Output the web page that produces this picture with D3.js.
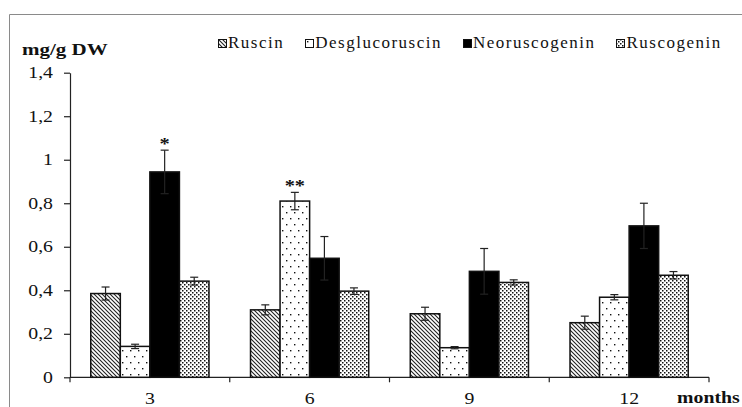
<!DOCTYPE html>
<html>
<head>
<meta charset="utf-8">
<script src="https://cdn.jsdelivr.net/npm/d3@7"></script>
<style>
  body { margin: 0; background: #fff; }
  #chart { position: relative; width: 742px; height: 407px; }
  #legend {
    position: absolute; left: 218px; top: 32.6px;
    display: flex; align-items: baseline;
    font-family: "Liberation Serif"; font-size: 17px; color: #111;
    letter-spacing: 1.5px; white-space: nowrap;
  }
  #legend .item { display: flex; align-items: baseline; margin-right: 21px; }
  #legend svg { margin-right: 1px; }
</style>
</head>
<body>
<div id="chart"></div>
<script>
const months = ["3", "6", "9", "12"];
const series = ["Ruscin", "Desglucoruscin", "Neoruscogenin", "Ruscogenin"];

// mean values per series, one entry per month
const ruscin         = [0.385, 0.31, 0.292, 0.251];
const desglucoruscin = [0.142, 0.81, 0.136, 0.368];
const neoruscogenin  = [0.944, 0.547, 0.487, 0.696];
const ruscogenin     = [0.442, 0.396, 0.436, 0.469];

// standard errors
const ruscinErr         = [0.03, 0.023, 0.03, 0.03];
const desglucoruscinErr = [0.01, 0.04, 0.005, 0.012];
const neoruscogeninErr  = [0.1, 0.1, 0.105, 0.104];
const ruscogeninErr     = [0.018, 0.015, 0.012, 0.017];

// significance marks above bars
const marks = [
  {month: "3", series: "Neoruscogenin", label: "*"},
  {month: "6", series: "Desglucoruscin", label: "**"}
];

const yTicks = [0, 0.2, 0.4, 0.6, 0.8, 1, 1.2, 1.4];

const values = [ruscin, desglucoruscin, neoruscogenin, ruscogenin];
const errors = [ruscinErr, desglucoruscinErr, neoruscogeninErr, ruscogeninErr];

const data = [];
months.forEach((m, i) => {
  series.forEach((s, j) => {
    data.push({month: m, series: s, value: values[j][i], err: errors[j][i]});
  });
});

const width = 742, height = 407;
const margin = {top: 72.7, right: 33, bottom: 30, left: 70};
const stretch = 1.2;
const serifFont = '"Liberation Serif"';

// ask for the serif faces early so the screenshot waits for them
if (document.fonts && document.fonts.load) {
  document.fonts.load('17px "Liberation Serif"');
  document.fonts.load('bold 17px "Liberation Serif"');
}

// text widened horizontally, like the source picture (no measuring needed)
function wideText(parent, x, y, str, size, anchor, bold) {
  const g = parent.append("g").attr("transform", `translate(${x},${y}) scale(${stretch},1)`);
  return g.append("text")
    .attr("text-anchor", anchor || "start")
    .style("font-family", serifFont)
    .style("font-size", size + "px")
    .style("font-weight", bold ? "bold" : "normal")
    .attr("fill", "#111")
    .text(str);
}

const svg = d3.select("#chart").append("svg")
  .attr("width", width)
  .attr("height", height);

// patterns
const defs = svg.append("defs");

const pHatch = defs.append("pattern").attr("id", "p-hatch")
  .attr("patternUnits", "userSpaceOnUse").attr("width", 4).attr("height", 4);
pHatch.append("rect").attr("width", 4).attr("height", 4).attr("fill", "#fff");
pHatch.append("path").attr("d", "M-1,-1 L5,5 M-1,3 L1,5 M3,-1 L5,1")
  .attr("stroke", "#222").attr("stroke-width", 1.1);

const pSparse = defs.append("pattern").attr("id", "p-sparse")
  .attr("patternUnits", "userSpaceOnUse").attr("width", 8).attr("height", 12);
pSparse.append("rect").attr("width", 8).attr("height", 12).attr("fill", "#fff");
pSparse.append("rect").attr("x", 2).attr("y", 2).attr("width", 1.4).attr("height", 1.4).attr("fill", "#111");
pSparse.append("rect").attr("x", 6).attr("y", 8).attr("width", 1.4).attr("height", 1.4).attr("fill", "#111");

const pDense = defs.append("pattern").attr("id", "p-dense")
  .attr("patternUnits", "userSpaceOnUse").attr("width", 4).attr("height", 4);
pDense.append("rect").attr("width", 4).attr("height", 4).attr("fill", "#fff");
pDense.append("rect").attr("x", 0).attr("y", 0).attr("width", 1.5).attr("height", 1.5).attr("fill", "#111");
pDense.append("rect").attr("x", 2).attr("y", 2).attr("width", 1.5).attr("height", 1.5).attr("fill", "#111");

const fill = d3.scaleOrdinal()
  .domain(series)
  .range(["url(#p-hatch)", "url(#p-sparse)", "#000", "url(#p-dense)"]);

// frame
svg.append("path")
  .attr("d", `M9.5,${height} L9.5,14.5 L${width},14.5`)
  .attr("fill", "none")
  .attr("stroke", "#8a8a8a")
  .attr("stroke-width", 1);

const x0 = d3.scaleBand()
  .domain(months)
  .range([margin.left, 709])
  .paddingInner(0.26)
  .paddingOuter(0.13);

const x1 = d3.scaleBand()
  .domain(series)
  .range([0, x0.bandwidth()]);

const y = d3.scaleLinear()
  .domain([0, 1.4])
  .range([377.3, margin.top]);

// y axis (labels drawn separately so they can be widened)
const yAxis = svg.append("g")
  .attr("transform", `translate(${margin.left},0)`)
  .call(d3.axisLeft(y).tickValues(yTicks).tickSize(6).tickSizeOuter(0).tickFormat(""));
yAxis.select(".domain").attr("stroke", "#222").attr("stroke-width", 1.2);
yAxis.selectAll(".tick line").attr("stroke", "#222").attr("stroke-width", 1.2);

yTicks.forEach(t => {
  wideText(svg, margin.left - 17, y(t) + 5.5, String(t).replace(".", ","), 16.5, "end");
});

// x axis line with ticks at category boundaries
const step = x0.step();
const boundaries = months.map(m => x0(m) - step * x0.paddingInner() / 2);
boundaries.push(boundaries[boundaries.length - 1] + step);

svg.append("line")
  .attr("x1", margin.left).attr("x2", boundaries[boundaries.length - 1])
  .attr("y1", y(0)).attr("y2", y(0))
  .attr("stroke", "#222").attr("stroke-width", 1.2);

svg.selectAll(".xtick").data(boundaries).enter().append("line")
  .attr("class", "xtick")
  .attr("x1", d => d).attr("x2", d => d)
  .attr("y1", y(0)).attr("y2", y(0) + 5)
  .attr("stroke", "#222").attr("stroke-width", 1.2);

months.forEach(m => {
  wideText(svg, x0(m) + x0.bandwidth() / 2, y(0) + 27, m, 16.5, "middle");
});

wideText(svg, 677, y(0) + 26, "months", 16.5, "start", true);
wideText(svg, 22, 55, "mg/g DW", 17.5, "start", true);

// bars
svg.selectAll(".bar").data(data).enter().append("rect")
  .attr("class", "bar")
  .attr("x", d => x0(d.month) + x1(d.series))
  .attr("y", d => y(d.value))
  .attr("width", x1.bandwidth())
  .attr("height", d => y(0) - y(d.value))
  .attr("fill", d => fill(d.series))
  .attr("stroke", "#111")
  .attr("stroke-width", 1.5);

// error bars
const eb = svg.selectAll(".err").data(data).enter().append("g").attr("class", "err")
  .attr("transform", d => `translate(${x0(d.month) + x1(d.series) + x1.bandwidth() / 2},0)`);
eb.append("line")
  .attr("y1", d => y(d.value - d.err)).attr("y2", d => y(d.value + d.err))
  .attr("stroke", "#222").attr("stroke-width", 1.2);
eb.append("line")
  .attr("x1", -4).attr("x2", 4)
  .attr("y1", d => y(d.value + d.err)).attr("y2", d => y(d.value + d.err))
  .attr("stroke", "#222").attr("stroke-width", 1.2);
eb.append("line")
  .attr("x1", -4).attr("x2", 4)
  .attr("y1", d => y(d.value - d.err)).attr("y2", d => y(d.value - d.err))
  .attr("stroke", "#222").attr("stroke-width", 1.2);

// significance marks
marks.forEach(mk => {
  const r = data.find(v => v.month === mk.month && v.series === mk.series);
  wideText(svg, x0(r.month) + x1(r.series) + x1.bandwidth() / 2, y(r.value + r.err) - 1,
    mk.label, 17, "middle", true);
});

// legend: laid out by the browser, no text measuring
const legend = d3.select("#chart").append("div").attr("id", "legend");
const items = legend.selectAll(".item").data(series).enter()
  .append("div").attr("class", "item");
const icon = items.append("svg")
  .attr("width", 9).attr("height", 9);
icon.append("rect")
  .attr("x", 0.5).attr("y", 0.5)
  .attr("width", 8).attr("height", 8)
  .attr("fill", d => fill(d))
  .attr("stroke", "#111").attr("stroke-width", 1);
items.append("span").text(d => d);
</script>
</body>
</html>
